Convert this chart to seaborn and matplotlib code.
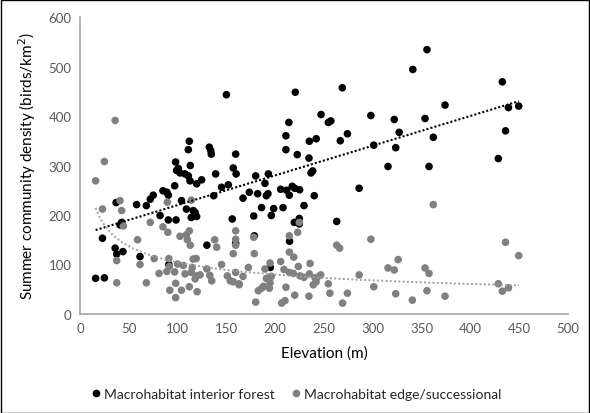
import numpy as np
import pandas as pd
import matplotlib
matplotlib.use("Agg")
import matplotlib.pyplot as plt
import seaborn as sns
from matplotlib.lines import Line2D
from matplotlib.patches import Rectangle

# ---- data ----
interior_x = [16, 25, 23, 36, 37.6, 44, 37, 42.7, 41, 58, 61.5, 68, 72, 75, 82, 85, 89, 90.5, 91, 90.5,
              98.4, 97, 98, 100.7, 99, 102.5, 104, 107.6, 111, 112, 111, 113, 112.7, 119.5, 124.6, 109, 116, 118, 119.5, 114,
              130, 132.5, 134, 134.5, 139, 137, 145, 152, 150, 157, 160, 159.5, 156, 159.5, 167, 173.5, 180, 193, 189.5, 182,
              191, 192.6, 178, 178.6, 186, 198.4, 196, 208, 205.6, 211.7, 217.5, 220, 225, 214.4, 195, 211, 211, 214, 220.6, 222.6,
              214.7, 219.6, 224.7, 224.7, 229.5, 234.6, 235, 242, 236.7, 238.4, 240, 247, 254.5, 257, 263, 266.7, 268.8, 274, 286, 298,
              301, 315.6, 322, 323.5, 327, 341, 353.5, 355.5, 357.6, 362, 374, 428.6, 432.7, 436, 439, 449.5]
interior_y = [72, 73, 153, 133, 121, 126, 225, 185, 180, 221, 116, 219, 232, 240, 199, 249, 246, 240, 100, 190,
              190, 259, 307, 294, 290, 285, 229, 283, 279, 349, 332, 300, 269, 263, 271, 212, 209, 205, 197, 195,
              139, 337, 330, 323, 283, 239, 256, 261, 443, 295, 283, 323, 192, 143, 234, 246, 279, 283, 264, 243,
              239, 243, 198, 158, 215, 213, 199, 215, 252, 250, 258, 254, 251, 240, 94, 360, 332, 387, 448, 322,
              147, 185, 193, 182, 219, 315, 349, 354, 285, 289, 239, 403, 387, 390, 187, 350, 457, 364, 254, 401,
              341, 298, 393, 336, 367, 494, 395, 534, 298, 357, 422, 314, 469, 370, 417, 420]

edge_x = [16, 25, 36, 23, 41, 42.7, 44.4, 37.6, 37.6, 59, 61.5, 68, 72, 76, 81, 85, 89.5, 90, 91, 89,
          91.5, 97, 100, 98, 92, 98, 104, 106, 107.6, 102.5, 109, 112, 110, 113, 114, 114, 115, 116, 119, 119.5,
          123, 118, 112, 120, 130, 133, 135, 138, 140, 145, 151, 154, 157, 163, 159.5, 157, 159.5, 159.5, 159.5, 167,
          172.5, 178, 178.6, 163, 180, 182.7, 186, 188, 189.5, 194.7, 191, 196, 194.7, 194, 205.6, 209, 214.5, 218.6, 211, 206.6,
          210, 214.5, 214.5, 219, 220, 223, 224.7, 223.7, 225.4, 229.5, 235.7, 235, 240.8, 246.6, 243, 234.6, 239, 241.8, 254.4, 256,
          263, 266, 269, 274, 286, 298, 301, 315.6, 322, 323.5, 326, 340.5, 353.5, 357.6, 355.5, 362, 374, 428.6, 432.7, 439,
          436, 449.5]
edge_y = [269, 308, 391, 212, 229, 209, 178, 108, 63, 150, 100, 63, 185, 112, 82, 176, 226, 165, 112, 86,
          96, 85, 101, 62, 48, 33, 48, 98, 81, 157, 160, 168, 150, 139, 230, 84, 94, 111, 112, 77,
          79, 71, 55, 45, 91, 78, 67, 150, 135, 100, 77, 67, 65, 61, 84, 122, 168, 151, 139, 76,
          94, 155, 122, 59, 24, 47, 52, 56, 91, 103, 72, 76, 63, 52, 106, 90, 84, 82, 54, 22,
          27, 158, 125, 115, 38, 165, 185, 96, 77, 74, 102, 81, 73, 79, 74, 36, 59, 65, 61, 42,
          139, 133, 22, 42, 79, 151, 55, 93, 89, 41, 110, 28, 93, 82, 47, 221, 36, 61, 46, 53,
          145, 118]

series_names = ["Macrohabitat interior forest", "Macrohabitat edge/successional"]
x_ticks = [0, 50, 100, 150, 200, 250, 300, 350, 400, 450, 500]
y_ticks = [0, 100, 200, 300, 400, 500, 600]

df = pd.DataFrame({
    "Elevation": interior_x + edge_x,
    "Density": interior_y + edge_y,
    "Habitat": [series_names[0]] * len(interior_x) + [series_names[1]] * len(edge_x),
})

sns.set_theme(style="white")
plt.rcParams["font.family"] = ["Lato", "DejaVu Sans"]

fig = plt.figure(figsize=(5.9, 4.14), dpi=100)
ax = fig.add_axes([80 / 590, 1 - 315 / 414, (568 - 80) / 590, (315 - 18) / 414])

colors = {series_names[0]: "#000000", series_names[1]: "#808080"}
sns.scatterplot(data=df, x="Elevation", y="Density", hue="Habitat", palette=colors,
                hue_order=[series_names[1], series_names[0]],
                s=30, edgecolor="none", linewidth=0, legend=False, ax=ax, zorder=3)

# linear trend for interior forest
xi = np.array(interior_x, dtype=float)
yi = np.array(interior_y, dtype=float)
m, b = np.polyfit(xi, yi, 1)
xl = np.linspace(xi.min(), xi.max(), 100)
sns.lineplot(x=xl, y=m * xl + b, color="#000000", linestyle=(0, (1, 1)), linewidth=1.5, ax=ax, zorder=4)

# power trend for edge/successional
xe = np.array(edge_x, dtype=float)
ye = np.array(edge_y, dtype=float)
pb, pa = np.polyfit(np.log(xe), np.log(ye), 1)
xp = np.linspace(xe.min(), xe.max(), 200)
sns.lineplot(x=xp, y=np.exp(pa) * xp ** pb, color="#a0a0a0", linestyle=(0, (1, 1.2)), linewidth=1.4, ax=ax, zorder=4)

ax.set_xlim(0, 500)
ax.set_ylim(0, 600)
ax.set_xticks(x_ticks)
ax.set_yticks(y_ticks)
ax.tick_params(axis="both", length=0, labelsize=9.5, labelcolor="#595959", pad=6)
ax.grid(False)
for side in ["top", "right"]:
    ax.spines[side].set_visible(False)
for side in ["left", "bottom"]:
    ax.spines[side].set_color("#a6a6a6")
    ax.spines[side].set_linewidth(1.2)

ax.set_xlabel("Elevation (m)", fontsize=11, color="#000000", labelpad=8)
ax.set_ylabel("Summer community density (birds/km$^2$)", fontsize=11, color="#000000", labelpad=8)

handles = [Line2D([], [], marker="o", linestyle="none", markersize=4.5, color=colors[n]) for n in series_names]
fig.legend(handles, series_names, loc="center", bbox_to_anchor=(0.5, 1 - 395 / 414), ncol=2,
           frameon=False, fontsize=10, handletextpad=0.1, columnspacing=1.0, handlelength=1.0)

fig.patches.append(Rectangle((0.001, 0.001), 0.997, 0.997, transform=fig.transFigure,
                             fill=False, edgecolor="#000000", linewidth=1.0))

fig.savefig("out.png", dpi=100)
